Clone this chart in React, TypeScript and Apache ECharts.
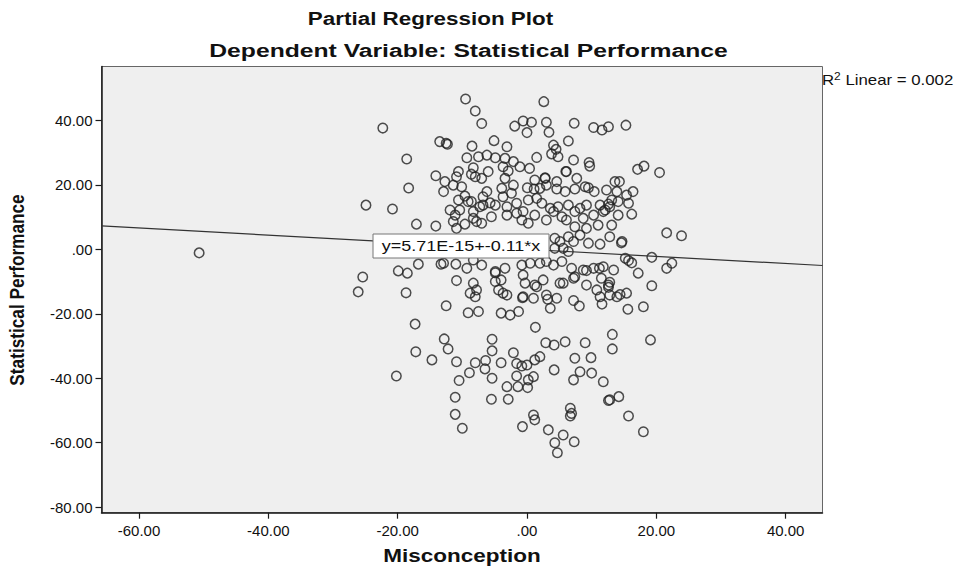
import React, { useEffect, useRef } from "react";
import * as echarts from "echarts";

const xTicks = [-60, -40, -20, 0, 20, 40];
const yTicks = [-80, -60, -40, -20, 0, 20, 40];
const xRange = [-65.8, 45.7];
const yRange = [-81.7, 56.7];
const intercept = 5.71e-15;
const slope = -0.11;
const equationText = "y=5.71E-15+-0.11*x";
const titleText = "Partial Regression Plot";
const subtitleText = "Dependent Variable: Statistical Performance";
const xName = "Misconception";
const yName = "Statistical Performance";

const misconception = [
  -50.7, -22.3, -24.9, -25.4, -26.1, -18.6, -18.3, -20.8, -17.1, -14.1,
  -18.7, -19.9, -18.5, -16.8, -13.3, -11.0, -12.5, -17.3, -12.8, -12.2,
  -17.2, -14.7, -20.2, -10.9, -10.5, -11.1, -11.1, -10.0, -10.9, -8.3,
  -7.8, -8.8, -8.0, -9.1, -7.5, -4.9, -4.0, -4.4, -3.7, -3.1,
  -4.0, -2.6, -1.3, -0.7, 1.3, -5.4, -5.4, -2.1, -8.0, -6.4,
  -6.5, -4.0, -8.9, -5.4, -1.6, -0.8, 0.0, 1.2, -1.6, 0.2,
  1.0, -3.1, -1.4, 0.1, -5.5, -2.9, -0.7, 1.0, 1.2, 3.2,
  3.6, 7.2, 8.1, 11.3, 11.6, 13.9, 2.0, 2.9, 4.2, 5.9,
  9.0, 4.2, 7.4, 9.9, 8.2, 10.0, 7.2, 11.8, 13.2, 13.2,
  7.2, 11.3, 14.6, 15.2, 15.7, 16.2, 19.3, 21.6, 22.4, 17.2,
  19.3, 11.2, 11.5, 12.8, 12.6, 9.2, 7.4, 5.6, 14.4, 15.4,
  15.6, 18.0, 19.1, 12.6, 12.8, 14.2, 15.7, 18.0, 6.7, 6.9,
  6.7, 3.3, 5.6, 7.3, 4.3, 4.7,
  -9.5, -8.0, -7.0, -1.9, -0.6, 0.7, 0.0, 3.0, 3.4, 7.3,
  10.3, 11.6, 12.6, 15.3, 2.6, -13.5, -12.5, -12.3, -8.5, -5.1,
  -3.1, 1.5, 6.4, 4.1, 4.5, 3.8, 4.8, 7.2, 9.6, 9.7,
  -9.3, -7.5, -6.2, -4.9, -3.4, -2.1, -1.1, 0.4, -8.3, -8.6,
  -8.0, -7.0, -6.0, -10.6, -10.9, -12.7, -11.4, -3.7, -2.9, -3.4,
  -2.1, -3.9, 6.1, 7.7, 1.2, 2.8, 3.0, 4.6, 4.6, 5.9,
  7.4, 9.0, 10.4, 12.3, 13.6, 13.9, 13.1, 12.6, 11.3, -12.9,
  -10.1, -9.6, -8.6, -6.8, -6.2, -5.7, -3.7, -2.4, -1.6, 0.05,
  1.1, 2.0, 0.2, 1.5, 2.3, -11.9, -10.4, -7.3, -4.9, -3.1,
  -0.6, 3.6, 4.8, 6.4, 8.2, 9.2, 11.8, 12.8, -11.1, -8.3,
  -7.0, -5.5, -3.1, -1.6, -0.8, 0.2, 1.2, 3.0, 4.1, 5.4,
  6.1, 7.4, 8.7, 10.3, 12.1, 13.1, 11.0, 9.2, 7.4, 14.1,
  4.3, 5.1, 6.4, 8.2, 4.3, 5.6, 6.4, 9.5, 12.8, -12.9,
  -9.3, -8.3, -7.0, -4.9, -3.4, -0.8, 0.5, 2.0, 3.0, 4.1,
  5.4, 6.9, 8.7, 10.3, 11.8, 13.4, -4.9, -0.6, -0.3, 1.2,
  2.5, 1.5, 3.0, 5.1, 7.2, 9.2, 10.8, 12.6, 12.8, -0.6,
  1.0, 4.6, 17.1, 18.1, 20.5, 14.3, 15.4, 16.4, 14.1, 15.7,
  16.2, 14.7, 21.6, 23.9, -14.1, -11.4, -10.9, -9.6, -7.8, -10.6,
  -9.1, -8.3, -6.8, 6.0, 2.8, 9.5,
];

const performance = [
  -1.1, 37.6, 13.7, -8.6, -13.2, 28.0, 19.0, 12.5, 7.8, 7.2,
  -13.5, -6.7, -7.4, -4.6, -4.6, -4.6, -17.5, -23.2, -27.8, -30.9,
  -31.8, -34.3, -39.3, -34.9, -40.7, -45.9, -51.2, -55.5, -9.7, -10.5,
  -12.6, -13.6, -14.7, -19.7, -19.3, -7.3, -9.5, -12.6, -13.6, -14.2,
  -19.8, -20.4, -19.3, -15.0, -24.2, -27.9, -31.5, -32.1, -35.2, -34.5,
  -37.1, -35.2, -38.3, -40.0, -35.4, -36.2, -35.9, -34.3, -39.3, -40.5,
  -39.5, -42.6, -42.6, -42.9, -46.5, -46.5, -55.0, -51.4, -52.9, -15.5,
  -18.3, -15.9, -17.6, -14.7, -17.0, -14.7, -33.3, -29.0, -29.7, -28.7,
  -29.0, -37.4, -33.8, -33.6, -38.0, -38.4, -40.5, -41.1, -26.4, -30.9,
  2.4, 1.6, 2.0, -2.8, -3.5, -4.2, -2.5, -5.9, -4.3, -7.4,
  -11.3, -5.9, -9.0, -10.2, -11.8, -6.6, -8.5, -10.5, -14.0, -13.6,
  -18.6, -17.8, -28.1, -46.9, -46.7, -45.7, -51.7, -56.6, -49.3, -50.9,
  -51.7, -56.0, -57.6, -59.7, -60.0, -63.1,
  46.6, 42.9, 39.0, 38.2, 39.8, 39.4, 36.2, 39.4, 36.3, 39.1,
  37.8, 37.0, 38.0, 38.5, 45.8, 33.4, 32.9, 32.6, 32.0, 33.7,
  31.8, 28.5, 33.6, 32.3, 31.0, 29.6, 28.7, 27.7, 26.9, 25.8,
  28.4, 28.7, 29.2, 28.4, 28.2, 27.2, 25.6, 25.1, 25.3, 23.3,
  22.5, 22.0, 24.1, 24.1, 22.5, 21.0, 19.9, 25.6, 24.3, 22.0,
  19.9, 18.9, 24.1, 22.0, 21.5, 22.2, 19.9, 21.0, 18.7, 17.9,
  18.7, 19.4, 17.9, 18.4, 21.0, 17.9, 15.3, 14.0, 13.7, 17.9,
  19.4, 16.5, 14.8, 16.3, 17.9, 14.4, 16.3, 17.4, 14.3, 19.1,
  18.7, 18.9, 15.3, 15.8, 14.3, 12.2, 12.2, 13.2, 13.7, 13.2,
  11.7, 12.7, 13.2, 13.7, 12.7, 13.7, 11.7, 13.2, 10.6, 9.6,
  8.1, 10.1, 10.6, 11.2, 9.1, 8.1, 10.6, 9.1, 11.7, 10.1,
  9.1, 11.7, 9.6, 10.6, 12.2, 7.5, 7.5, 6.5, 7.0, 10.6,
  3.4, 2.4, 3.9, 4.4, 0.3, 0.3, -0.7, 1.9, 3.9, -4.3,
  -5.9, -3.3, -4.9, -6.9, -5.9, -4.9, -4.3, -4.3, -3.8, -4.9,
  -3.8, -5.9, -6.4, -5.9, -5.4, -6.4, -10.0, -8.0, -10.5, -11.1,
  -9.5, -11.6, -14.2, -10.5, -9.0, -11.1, -12.6, -11.1, -14.2, -14.7,
  -15.2, -15.2, 24.8, 25.8, 23.8, 21.0, 16.8, 17.9, 14.8, 14.3,
  10.9, 2.4, 5.1, 4.2, 22.8, 8.6, 6.5, 7.8, 8.6, 15.3,
  14.8, 11.7, 13.7, 24.1, 22.0, 19.1,
];

const FONT = '"Liberation Sans", Arial, sans-serif';

function fmt(v: number) {
  return v === 0 ? ".00" : v.toFixed(2);
}

export default function App() {
  const ref = useRef<HTMLDivElement>(null);

  useEffect(() => {
    document.body.style.margin = "0";
    if (!ref.current) return;
    const chart = echarts.init(ref.current, undefined, { renderer: "svg" });

    const points = misconception.map((x, i) => [x, performance[i]]);
    const fitLine = xRange.map((x) => [x, intercept + slope * x]);

    chart.setOption({
      animation: false,
      backgroundColor: "#ffffff",
      textStyle: { fontFamily: FONT },
      grid: {
        left: 101.5,
        right: 139.5,
        top: 66.5,
        bottom: 58.3,
        show: true,
        backgroundColor: "#efefef",
        borderColor: "#666666",
        borderWidth: 1,
        containLabel: false,
        outerBoundsMode: "none",
      },
      xAxis: {
        type: "value",
        min: xRange[0],
        max: xRange[1],
        splitLine: { show: false },
        axisLine: { show: true, onZero: false, lineStyle: { color: "#1a1a1a", width: 1.5 } },
        axisTick: { show: true, length: 6, customValues: xTicks, lineStyle: { color: "#1a1a1a", width: 1.2 } },
        axisLabel: {
          customValues: xTicks,
          formatter: fmt,
          fontSize: 15,
          color: "#111",
          margin: 10,
          fontFamily: FONT,
        },
      },
      yAxis: {
        type: "value",
        min: yRange[0],
        max: yRange[1],
        splitLine: { show: false },
        axisLine: { show: true, onZero: false, lineStyle: { color: "#1a1a1a", width: 1.5 } },
        axisTick: { show: true, length: 6, customValues: yTicks, lineStyle: { color: "#1a1a1a", width: 1.2 } },
        axisLabel: {
          customValues: yTicks,
          formatter: fmt,
          fontSize: 15,
          color: "#111",
          margin: 9,
          fontFamily: FONT,
        },
      },
      series: [
        {
          type: "scatter",
          data: points,
          symbol: "circle",
          symbolSize: 9.5,
          itemStyle: { color: "rgba(0,0,0,0)", borderColor: "#222", borderWidth: 1.5 },
          z: 2,
        },
        {
          type: "line",
          data: fitLine,
          symbol: "none",
          lineStyle: { color: "#333", width: 1.2 },
          z: 3,
        },
      ],
      graphic: [
        {
          type: "text",
          x: 430.5,
          y: 18,
          scaleX: 1.18,
          z: 100,
          style: { text: titleText, font: `bold 19px ${FONT}`, fill: "#111", align: "center", verticalAlign: "middle" },
        },
        {
          type: "text",
          x: 468.5,
          y: 51,
          scaleX: 1.3,
          z: 100,
          style: { text: subtitleText, font: `bold 19px ${FONT}`, fill: "#111", align: "center", verticalAlign: "middle" },
        },
        {
          type: "text",
          x: 822,
          y: 80,
          scaleX: 1.2,
          z: 100,
          style: {
            text: "{b|R}{s|2}{b| Linear = 0.002}",
            align: "left",
            verticalAlign: "middle",
            rich: {
              b: { font: `14px ${FONT}`, fill: "#111", color: "#111" },
              s: { font: `10px ${FONT}`, fill: "#111", color: "#111", padding: [0, 0, 7, 0] },
            },
          },
        },
        {
          type: "text",
          x: 462,
          y: 556,
          scaleX: 1.25,
          z: 100,
          style: { text: xName, font: `bold 18px ${FONT}`, fill: "#111", align: "center", verticalAlign: "middle" },
        },
        {
          type: "text",
          x: 17,
          y: 290,
          rotation: Math.PI / 2,
          scaleX: 0.82,
          z: 100,
          style: { text: yName, font: `bold 21px ${FONT}`, fill: "#111", align: "center", verticalAlign: "middle" },
        },
        {
          type: "rect",
          z: 100,
          shape: { x: 373, y: 234, width: 176, height: 24 },
          style: { fill: "#ffffff", stroke: "#777777", lineWidth: 1 },
        },
        {
          type: "text",
          x: 461,
          y: 246.5,
          scaleX: 1.2,
          z: 101,
          style: { text: equationText, font: `15px ${FONT}`, fill: "#111", align: "center", verticalAlign: "middle" },
        },
      ],
    });

    return () => {
      chart.dispose();
    };
  }, []);

  return <div ref={ref} style={{ width: 962, height: 571 }} />;
}
